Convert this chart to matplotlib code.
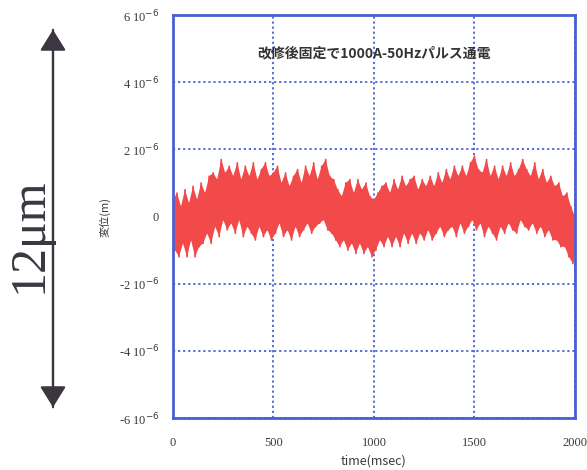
import numpy as np
import matplotlib
matplotlib.use("Agg")
import matplotlib.pyplot as plt

plt.rcParams['font.family'] = ['Liberation Serif', 'Noto Sans CJK JP', 'DejaVu Sans']

# Displacement signal (unit: 1e-6 m): positive peaks every 20 ms, troughs in between
upper = [0.5, 0.7, 0.3, 0.8, 0.4, 0.9, 0.5, 1.0, 0.7, 1.2,
         1.3, 1.1, 1.7, 1.3, 1.5, 1.2, 1.6, 1.1, 1.5, 1.2,
         1.6, 1.1, 1.4, 1.6, 1.2, 1.3, 1.5, 1.0, 1.3, 0.9,
         1.2, 1.4, 1.0, 1.5, 1.2, 1.6, 1.1, 1.5, 1.7, 1.2,
         1.1, 0.8, 0.6, 1.0, 1.1, 0.7, 1.1, 0.8, 1.0, 0.6,
         0.5, 0.7, 0.9, 1.0, 0.7, 1.1, 0.8, 1.2, 0.9, 1.1,
         1.2, 0.8, 1.1, 0.9, 1.2, 0.9, 1.3, 1.0, 1.4, 1.1,
         1.5, 1.2, 1.5, 1.2, 1.6, 1.8, 1.4, 1.3, 1.7, 1.2,
         1.5, 1.1, 1.5, 1.2, 1.6, 1.2, 1.4, 1.7, 1.4, 1.2,
         1.6, 1.1, 1.4, 1.0, 1.2, 0.9, 1.0, 0.6, 0.7, 0.3,
         0.0]
lower = [-1.0, -1.2, -0.8, -1.2, -0.7, -1.2, -0.9, -0.8, -0.5, -0.8,
         -0.3, -0.6, -0.1, -0.4, -0.2, -0.5, -0.1, -0.6, -0.3, -0.5,
         -0.7, -0.3, -0.6, -0.4, -0.7, -0.5, -0.2, -0.6, -0.4, -0.7,
         -0.3, -0.6, -0.4, -0.2, -0.5, -0.3, -0.2, -0.1, -0.4, -0.5,
         -0.7, -0.9, -0.7, -1.0, -0.8, -1.1, -0.8, -1.1, -0.9, -1.2,
         -1.0, -0.7, -0.9, -0.6, -0.9, -0.6, -0.9, -0.5, -0.8, -0.5,
         -0.8, -0.5, -0.7, -0.4, -0.7, -0.5, -0.3, -0.6, -0.4, -0.3,
         -0.6, -0.2, -0.5, -0.3, -0.1, -0.4, -0.2, -0.6, -0.3, -0.5,
         -0.7, -0.3, -0.5, -0.2, -0.4, -0.5, -0.1, -0.3, -0.4, -0.2,
         -0.5, -0.3, -0.6, -0.4, -0.7, -0.7, -0.9, -0.9, -1.2, -1.4]

t_end = 2000.0
x_ticks = [0, 500, 1000, 1500, 2000]
y_ticks = [-6, -4, -2, 0, 2, 4, 6]
title = "改修後固定で1000A-50Hzパルス通電"
x_label = "time(msec)"
y_label = "変位(m)"
span_label = "12μm"

# interleave peaks and troughs into one waveform
t_up = np.linspace(0, t_end, len(upper))
t_lo = np.linspace(t_end / (2 * len(lower)), t_end - t_end / (2 * len(lower)), len(lower))
t = np.empty(len(upper) + len(lower))
y = np.empty_like(t)
t[0::2], y[0::2] = t_up, upper
t[1::2], y[1::2] = t_lo, lower
y = y * 1e-6
up_m = np.asarray(upper) * 1e-6
lo_m = np.asarray(lower) * 1e-6

fig = plt.figure(figsize=(5.87, 4.70), dpi=100)
ax = fig.add_axes([0.2947, 0.1106, 0.6848, 0.8574])

blue = "#4a5fd0"
red = "#f24a4a"
# dense oscillation: band between peak and trough envelopes, plus the trace itself
ax.fill(np.concatenate([t_up, t_lo[::-1]]), np.concatenate([up_m, lo_m[::-1]]),
        color=red, lw=0, zorder=2)
ax.plot(t, y, color=red, lw=1.2, zorder=3)

ax.set_xlim(0, t_end)
ax.set_ylim(-6e-6, 6e-6)
ax.set_xticks(x_ticks)
ax.set_xticklabels([str(v) for v in x_ticks])
ax.set_yticks([v * 1e-6 for v in y_ticks])
ax.set_yticklabels(["0" if v == 0 else f"{v} 10$^{{-6}}$" for v in y_ticks])
ax.tick_params(length=0, labelsize=9, pad=10, colors="#3a3a3a")
ax.tick_params(axis="x", pad=14)
ax.grid(True, color=blue, ls=(0, (1.2, 1.6)), lw=1.3, zorder=1)
ax.set_axisbelow(True)
for s in ax.spines.values():
    s.set_color(blue)
    s.set_linewidth(2.0)
    s.set_zorder(4)

ax.text(0.5, 0.905, title, transform=ax.transAxes, ha="center", va="center",
        fontsize=10, fontweight="bold", color="#333333",
        family=["Noto Sans CJK JP", "DejaVu Sans"])
ax.set_xlabel(x_label, fontsize=9, color="#3a3a3a", labelpad=4,
              family=["Noto Sans CJK JP", "DejaVu Sans"])
ax.set_ylabel(y_label, fontsize=8, color="#3a3a3a", labelpad=6,
              family=["Noto Sans CJK JP", "DejaVu Sans"])

# scale bar with arrowheads at both ends
fig.patches.append(matplotlib.patches.FancyArrowPatch(
    (53 / 587, 1 - 410 / 470), (53 / 587, 1 - 27 / 470), transform=fig.transFigure,
    arrowstyle="-|>,head_length=8,head_width=5", color="#3b3640", lw=1.6, mutation_scale=1.6))
fig.patches.append(matplotlib.patches.FancyArrowPatch(
    (53 / 587, 1 - 27 / 470), (53 / 587, 1 - 410 / 470), transform=fig.transFigure,
    arrowstyle="-|>,head_length=8,head_width=5", color="#3b3640", lw=1.6, mutation_scale=1.6))
fig.text(29 / 587, 1 - 235 / 470, span_label, rotation=90, ha="center", va="center",
         fontsize=36, color="#3b3640", family=["Liberation Serif", "DejaVu Serif"])

fig.savefig("out.png", dpi=100)
